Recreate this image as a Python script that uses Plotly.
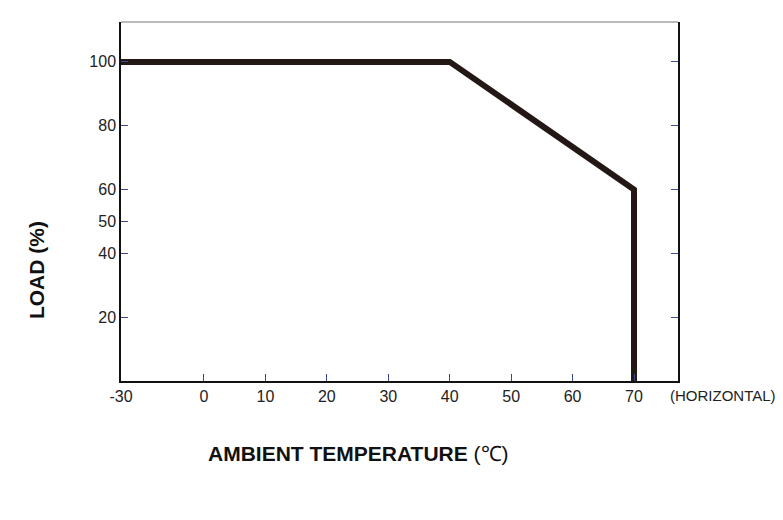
import plotly.graph_objects as go

# ---- data ----
temps = [-30, 40, 70, 70]
loads = [100, 100, 60, 0]
x_ticks = [-30, 0, 10, 20, 30, 40, 50, 60, 70]
x_tick_labels = ["-30", "0", "10", "20", "30", "40", "50", "60", "70"]
y_ticks_left = [20, 40, 50, 60, 80, 100]
y_tick_labels_left = ["20", "40", "50", "60", "80", "100"]
y_ticks_right = [20, 40, 60, 80, 100]

# broken x axis: the span below 0 is compressed
NEG = 13.51 / 30.0
def xp(t):
    return t if t >= 0 else t * NEG

TICK = "#3b4a8c"
FONT = "Liberation Sans, Arial, sans-serif"

fig = go.Figure()
fig.add_trace(go.Scatter(
    x=[xp(t) for t in temps], y=loads, mode="lines",
    line=dict(color="#231815", width=6), showlegend=False, hoverinfo="skip"))
fig.add_trace(go.Scatter(
    x=[xp(0)], y=[0], yaxis="y2", mode="markers", marker=dict(opacity=0),
    showlegend=False, hoverinfo="skip"))

fig.update_layout(
    width=775, height=512,
    margin=dict(l=113, r=105, t=14, b=139),
    paper_bgcolor="white", plot_bgcolor="white",
    font=dict(family=FONT, size=16, color="#222"),
    xaxis=dict(range=[xp(-30), 77.16], tickvals=[xp(v) for v in x_ticks],
               ticktext=x_tick_labels, ticks="inside", ticklen=7, tickwidth=1,
               tickcolor=TICK, showline=True, linecolor="#111", linewidth=1.5,
               showgrid=False, zeroline=False, tickfont=dict(size=16)),
    yaxis=dict(range=[0, 112.5], tickvals=y_ticks_left, ticktext=y_tick_labels_left,
               ticks="inside", ticklen=7, tickwidth=1, tickcolor=TICK,
               showline=True, linecolor="#111", linewidth=1.5,
               showgrid=False, zeroline=False, tickfont=dict(size=16)),
    yaxis2=dict(range=[0, 112.5], overlaying="y", side="right", tickvals=y_ticks_right,
                ticks="inside", ticklen=7, tickwidth=1, tickcolor=TICK,
                showticklabels=False, showline=True, linecolor="#111", linewidth=1.5,
                showgrid=False, zeroline=False),
    shapes=[dict(type="line", xref="paper", yref="paper", x0=0, x1=1, y0=1, y1=1,
                 line=dict(color="#777", width=1.2))],
    annotations=[
        dict(text="(HORIZONTAL)", xref="paper", yref="paper", x=0.982, y=-0.039,
             xanchor="left", yanchor="middle", showarrow=False,
             font=dict(size=15, color="#222")),
        dict(text="<b>AMBIENT TEMPERATURE</b> (℃)", xref="paper", yref="paper",
             x=0.427, y=-0.202, xanchor="center", yanchor="middle", showarrow=False,
             font=dict(size=21, color="#111")),
        dict(text="<b>LOAD (%)</b>", xref="paper", yref="paper", x=-0.1526, y=0.309,
             xanchor="center", yanchor="middle", textangle=-90, showarrow=False,
             font=dict(size=21, color="#111")),
    ],
)

fig.write_html("out.html")
